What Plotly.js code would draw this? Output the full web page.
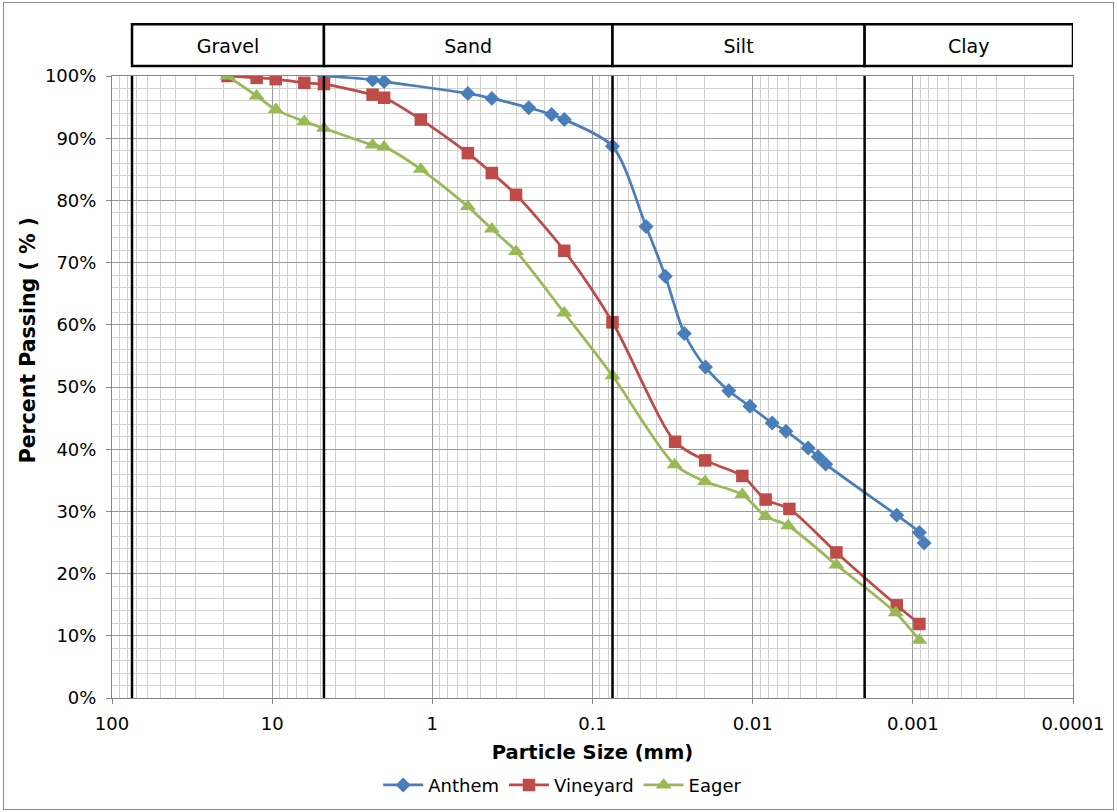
<!DOCTYPE html>
<html>
<head>
<meta charset="utf-8">
<script src="https://cdn.plot.ly/plotly-3.0.1.min.js"></script>
<style>
  html, body { margin: 0; padding: 0; background: #fff; }
  #chart { width: 1117px; height: 812px; position: absolute; left: 0; top: 0; }
  #frame { position: absolute; left: 3px; top: 2px; width: 1109px; height: 806px; border: 1px solid #8c8c8c; pointer-events: none; }
</style>
</head>
<body>
<div id="chart"></div>
<div id="frame"></div>
<script>
// ---- data (particle size in mm, percent passing) ----
const anthemSize = [4.75, 2.36, 2.0, 0.6, 0.425, 0.25, 0.18, 0.15, 0.075, 0.0463, 0.0351, 0.0267, 0.0197, 0.0141, 0.0104, 0.00755, 0.0062, 0.0045, 0.0039, 0.0035, 0.00126, 0.00091, 0.00085];
const anthemPass = [100, 99.4, 99.1, 97.2, 96.4, 94.9, 93.8, 93.0, 88.7, 75.8, 67.8, 58.6, 53.2, 49.4, 46.9, 44.2, 42.9, 40.2, 38.8, 37.6, 29.4, 26.6, 24.9];

const vineyardSize = [19, 12.5, 9.5, 6.3, 4.75, 2.36, 2.0, 1.18, 0.6, 0.425, 0.3, 0.15, 0.075, 0.0305, 0.0198, 0.0116, 0.0083, 0.0059, 0.003, 0.00126, 0.00091];
const vineyardPass = [100, 99.7, 99.5, 98.9, 98.7, 97.0, 96.5, 93.0, 87.6, 84.4, 80.9, 71.9, 60.4, 41.2, 38.2, 35.7, 31.9, 30.4, 23.4, 14.9, 11.9];

const eagerSize = [19, 12.5, 9.5, 6.3, 4.75, 2.36, 2.0, 1.18, 0.6, 0.425, 0.3, 0.15, 0.075, 0.0307, 0.0198, 0.0116, 0.0083, 0.006, 0.003, 0.00128, 0.00091];
const eagerPass = [100, 96.8, 94.6, 92.7, 91.6, 88.9, 88.6, 85.0, 79.0, 75.4, 71.8, 61.9, 51.8, 37.5, 34.8, 32.7, 29.2, 27.7, 21.4, 13.7, 9.3];

// soil class boundaries (mm) and names
const zoneBounds = [75, 4.75, 0.075, 0.002, 0.0001];
const zoneNames = ['Gravel', 'Sand', 'Silt', 'Clay'];
const boundaryLines = [75, 4.75, 0.075, 0.002];

// axis ticks
const xTickVals = [100, 10, 1, 0.1, 0.01, 0.001, 0.0001];
const xTickText = ['100', '10', '1', '0.1', '0.01', '0.001', '0.0001'];

const FONT = 'DejaVu Sans, Verdana, sans-serif';

function series(name, x, y, color, symbol, size) {
  return {
    type: 'scatter', mode: 'lines+markers', name: name, x: x, y: y,
    line: { color: color, width: 2.75, shape: 'spline', smoothing: 0.8 },
    marker: { color: color, symbol: symbol, size: size }
  };
}

const traces = [
  series('Anthem', anthemSize, anthemPass, '#4a7ebb', 'diamond', 11.5),
  series('Vineyard', vineyardSize, vineyardPass, '#be4b48', 'square', 12.5),
  series('Eager', eagerSize, eagerPass, '#98b954', 'triangle-up', 14)
];

const shapes = [];
boundaryLines.forEach(v => {
  shapes.push({ type: 'line', xref: 'x', yref: 'paper', x0: v, x1: v, y0: 0, y1: 1,
    line: { color: '#000', width: 2.5 }, layer: 'above' });
});
zoneNames.forEach((n, i) => {
  shapes.push({ type: 'rect', xref: 'x', yref: 'paper',
    x0: zoneBounds[i], x1: zoneBounds[i + 1], y0: 1.016, y1: 1.083,
    fillcolor: '#fff', line: { color: '#000', width: 2.5 }, layer: 'above',
    label: { text: n, textposition: 'middle center', font: { family: FONT, size: 19, color: '#000' } } });
});

const layout = {
  width: 1117, height: 812,
  margin: { l: 112, r: 44, t: 76, b: 114, autoexpand: false },
  paper_bgcolor: '#fff', plot_bgcolor: '#fff',
  font: { family: FONT, size: 18, color: '#000' },
  showlegend: true,
  legend: { orientation: 'h', x: 0.469, xanchor: 'center', yref: 'container', y: 0.033, yanchor: 'middle',
    font: { family: FONT, size: 18, color: '#000' }, itemwidth: 40, tracegroupgap: 0 },
  xaxis: {
    type: 'log', range: [2, -4], automargin: false,
    tickmode: 'array', tickvals: xTickVals, ticktext: xTickText,
    ticks: 'outside', ticklen: 5, tickcolor: '#868686', ticklabelstandoff: 4,
    showline: true, linecolor: '#868686', linewidth: 1, mirror: true,
    showgrid: true, gridcolor: '#9a9a9a', gridwidth: 1,
    minor: { dtick: 'D1', showgrid: true, gridcolor: '#d0d0d0', gridwidth: 1, ticks: '' },
    zeroline: false,
    tickfont: { family: FONT, size: 18, color: '#000' },
    title: { text: '<b>Particle Size (mm)</b>', font: { family: FONT, size: 19.5, color: '#000' }, standoff: 12 }
  },
  yaxis: {
    range: [0, 100], dtick: 10, ticksuffix: '%', automargin: false,
    ticks: 'outside', ticklen: 5, tickcolor: '#868686', ticklabelstandoff: 6,
    showline: true, linecolor: '#868686', linewidth: 1, mirror: true,
    showgrid: true, gridcolor: '#9a9a9a', gridwidth: 1,
    minor: { dtick: 2, showgrid: true, gridcolor: '#d0d0d0', gridwidth: 1, ticks: '' },
    zeroline: false,
    tickfont: { family: FONT, size: 18, color: '#000' }
  },
  annotations: [{
    text: '<b>Percent Passing ( % )</b>', xref: 'paper', yref: 'paper',
    x: -0.0874, y: 0.575, xanchor: 'center', yanchor: 'middle', textangle: -90,
    showarrow: false, font: { family: FONT, size: 20.5, color: '#000' }
  }],
  shapes: shapes
};

Plotly.newPlot('chart', traces, layout, { displayModeBar: false, staticPlot: true });
</script>
</body>
</html>
